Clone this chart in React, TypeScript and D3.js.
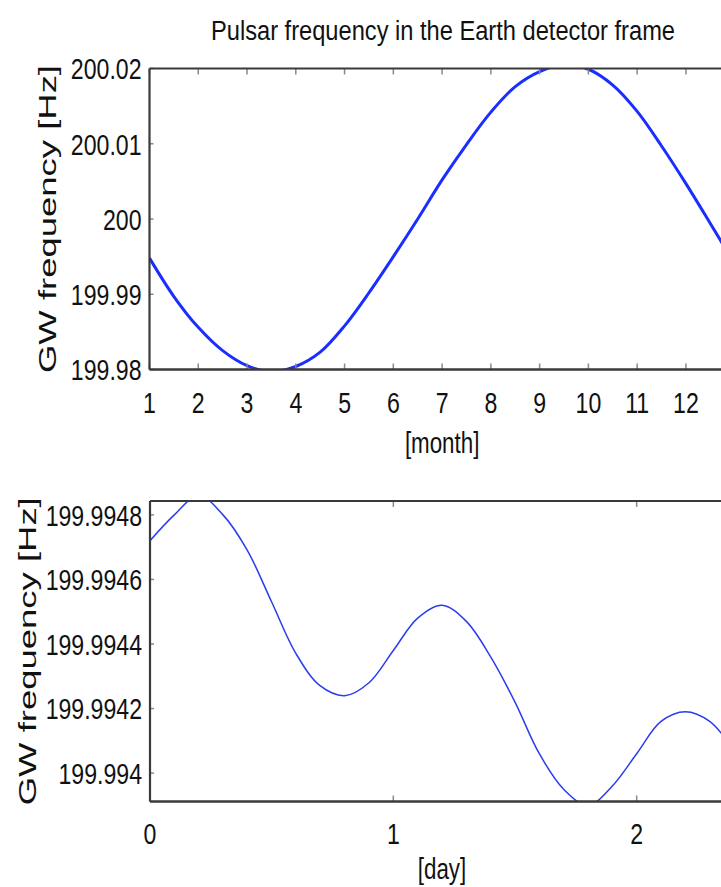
import React from 'react';
import * as d3 from 'd3';

// ---------- data ----------
const monthX = [1, 1.5, 2, 2.5, 3, 3.5, 4, 4.5, 5, 5.5, 6, 6.5, 7, 7.5, 8, 8.5, 9, 9.5, 10, 10.5, 11, 11.5, 12, 12.5, 13];
const monthHz = [
  199.9948, 199.9897, 199.9856, 199.9825, 199.9805, 199.9797, 199.9804, 199.9823, 199.9858, 199.9902,
  199.995, 200.0, 200.0052, 200.0099, 200.0142, 200.0176, 200.0196, 200.0205, 200.0199, 200.0178,
  200.0143, 200.0097, 200.0047, 199.9994, 199.994,
];
const monthTicks = [1, 2, 3, 4, 5, 6, 7, 8, 9, 10, 11, 12];
const monthYTicks = [199.98, 199.99, 200, 200.01, 200.02];
const monthYLabels = ['199.98', '199.99', '200', '200.01', '200.02'];

const dayX = [0, 0.1, 0.2, 0.3, 0.4, 0.5, 0.6, 0.7, 0.8, 0.9, 1.0, 1.1, 1.2, 1.3, 1.4, 1.5, 1.6, 1.7, 1.8, 1.9, 2.0, 2.1, 2.2, 2.3, 2.4];
const dayHz = [
  199.99472, 199.9948, 199.99486, 199.9948, 199.99469, 199.99453, 199.99437, 199.99427, 199.99424, 199.99428,
  199.99438, 199.99448, 199.99452, 199.99447, 199.99436, 199.99422, 199.99406, 199.99395, 199.9939, 199.99396,
  199.99406, 199.99416, 199.99419, 199.99416, 199.99407,
];
const dayTicks = [0, 1, 2];
const dayYTicks = [199.994, 199.9942, 199.9944, 199.9946, 199.9948];
const dayYLabels = ['199.994', '199.9942', '199.9944', '199.9946', '199.9948'];

const titleText = 'Pulsar frequency in the Earth detector frame';
const yLabelText = 'GW frequency [Hz]';

// ---------- layout ----------
const W = 721;
const H = 887;
const FONT = "'Liberation Sans', Arial, Helvetica, sans-serif";
const AX = '#3a3a3a';
const TICK = '#8a8a8a';
const NARROW = 0.77;

function NText(props: { x: number; y: number; anchor: string; size: number; sx?: number; children: string; dy?: string }) {
  return (
    <g transform={`translate(${props.x},${props.y}) scale(${props.sx ?? NARROW},1)`}>
      <text x={0} y={0} dy={props.dy} textAnchor={props.anchor} fontSize={props.size} fontFamily={FONT} fill="#111">
        {props.children}
      </text>
    </g>
  );
}

interface PanelProps {
  id: string;
  xs: number[];
  ys: number[];
  xDomain: [number, number];
  yDomain: [number, number];
  left: number;
  right: number;
  top: number;
  bottom: number;
  xTicks: number[];
  yTicks: number[];
  yLabels: string[];
  xLabel: string;
  xTickY: number;
  xLabelY: number;
  yLabelX: number;
  lineWidth: number;
  lineColor: string;
  yTickLen: number;
}

function Panel(p: PanelProps) {
  const x = d3.scaleLinear().domain(p.xDomain).range([p.left, p.right]);
  const y = d3.scaleLinear().domain(p.yDomain).range([p.bottom, p.top]);
  const pts: [number, number][] = p.xs.map((v, i) => [v, p.ys[i]]);
  const line = d3
    .line<[number, number]>()
    .x((d) => x(d[0]))
    .y((d) => y(d[1]))
    .curve(d3.curveCatmullRom.alpha(0.5));
  const cx = (p.left + p.right) / 2;
  const cy = (p.top + p.bottom) / 2;
  return (
    <g>
      <defs>
        <clipPath id={p.id}>
          <rect x={p.left} y={p.top} width={p.right - p.left} height={p.bottom - p.top} />
        </clipPath>
      </defs>
      <path d={line(pts) || ''} fill="none" stroke={p.lineColor} strokeWidth={p.lineWidth} clipPath={`url(#${p.id})`} />
      {p.xTicks.map((t) => (
        <g key={'xt' + t}>
          <line x1={x(t)} x2={x(t)} y1={p.bottom} y2={p.bottom - 6} stroke={TICK} strokeWidth={1.5} />
          <line x1={x(t)} x2={x(t)} y1={p.top} y2={p.top + 6} stroke={TICK} strokeWidth={1.5} />
          <NText x={x(t)} y={p.xTickY} anchor="middle" size={30}>
            {String(t)}
          </NText>
        </g>
      ))}
      {p.yTicks.map((t, i) => (
        <g key={'yt' + t}>
          <line x1={p.left} x2={p.left + p.yTickLen} y1={y(t)} y2={y(t)} stroke={TICK} strokeWidth={1.5} />
          <NText x={p.left - 8} y={y(t)} dy="0.36em" anchor="end" size={30}>
            {p.yLabels[i]}
          </NText>
        </g>
      ))}
      <line x1={p.left} x2={W + 20} y1={p.top} y2={p.top} stroke={AX} strokeWidth={2.2} />
      <line x1={p.left} x2={W + 20} y1={p.bottom} y2={p.bottom} stroke={AX} strokeWidth={2.5} />
      <line x1={p.left} x2={p.left} y1={p.top} y2={p.bottom} stroke={AX} strokeWidth={2.2} />
      <NText x={cx} y={p.xLabelY} anchor="middle" size={29}>
        {p.xLabel}
      </NText>
      <text
        transform={`translate(${p.yLabelX},${cy}) rotate(-90)`}
        textAnchor="middle"
        fontSize={23}
        fontFamily={FONT}
        textLength={308}
        lengthAdjust="spacingAndGlyphs"
        fill="#111"
      >
        {yLabelText}
      </text>
    </g>
  );
}

export default function App() {
  return (
    <svg width={W} height={H} style={{ position: 'absolute', left: 0, top: 0, background: '#fff' }}>
      <rect width={W} height={H} fill="#fff" />
      <NText x={443} y={40} anchor="middle" size={28} sx={0.845}>
        {titleText}
      </NText>
      <Panel
        id="clipTop"
        xs={monthX}
        ys={monthHz}
        xDomain={[1, 13]}
        yDomain={[199.98, 200.02]}
        left={149.5}
        right={734.7}
        top={68.5}
        bottom={369.5}
        xTicks={monthTicks}
        yTicks={monthYTicks}
        yLabels={monthYLabels}
        xLabel="[month]"
        xTickY={413}
        xLabelY={453}
        yLabelX={56}
        lineWidth={3}
        lineColor="#1a2eff"
        yTickLen={4}
      />
      <Panel
        id="clipBottom"
        xs={dayX}
        ys={dayHz}
        xDomain={[0, 2.4]}
        yDomain={[199.993912, 199.994843]}
        left={150}
        right={734}
        top={501}
        bottom={801.5}
        xTicks={dayTicks}
        yTicks={dayYTicks}
        yLabels={dayYLabels}
        xLabel="[day]"
        xTickY={844}
        xLabelY={879}
        yLabelX={36}
        lineWidth={1.5}
        lineColor="#2a3cf0"
        yTickLen={4}
      />
    </svg>
  );
}
